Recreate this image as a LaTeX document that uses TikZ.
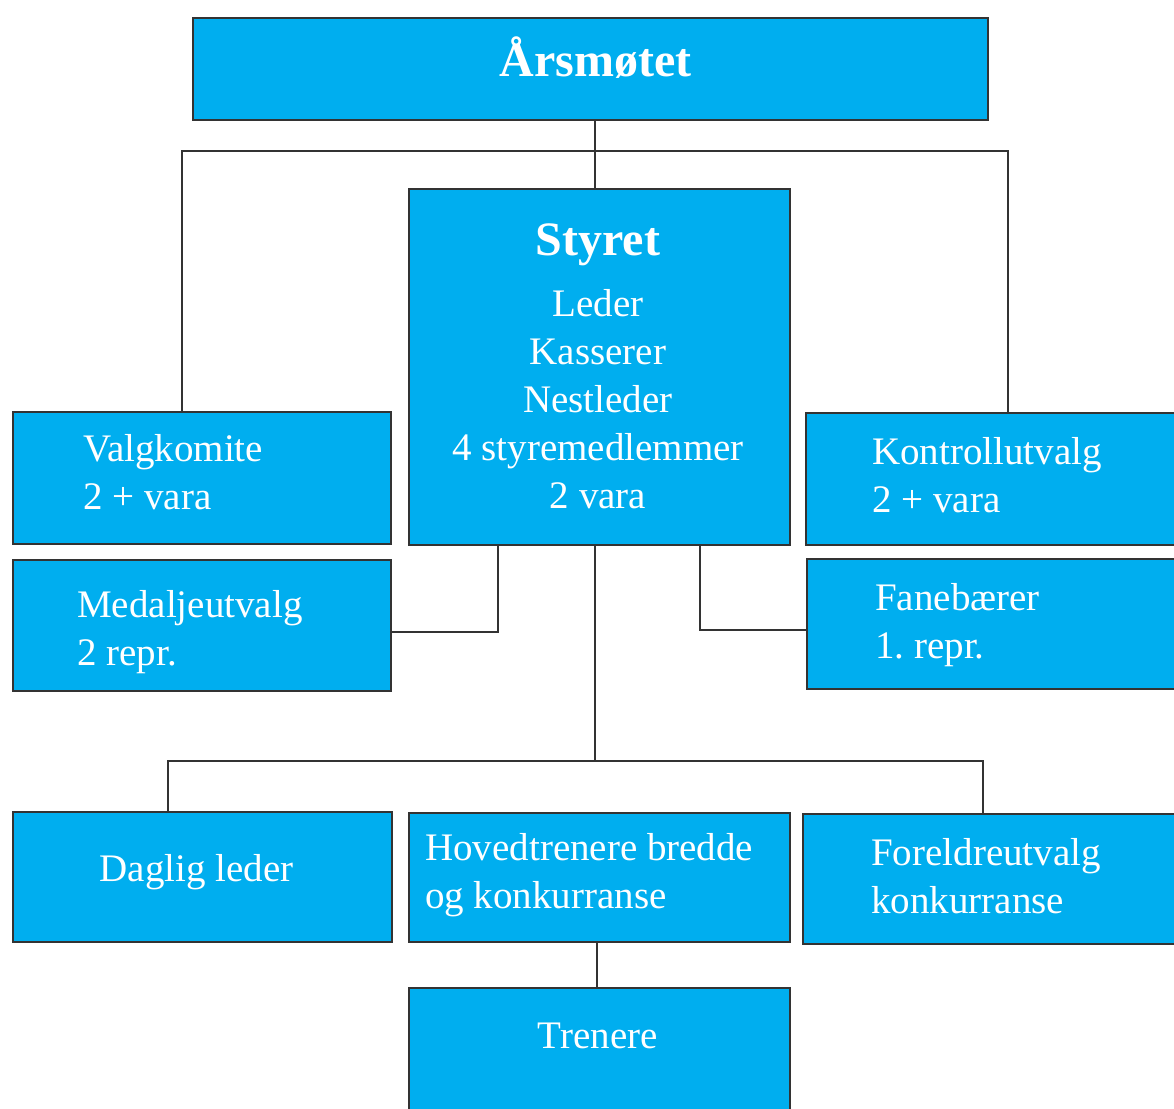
\documentclass[tikz,border=0pt]{standalone}
\usepackage{fontspec}
\setmainfont{Liberation Serif}
\definecolor{boxfill}{HTML}{00AEEF}
\definecolor{edge}{HTML}{333333}
\begin{document}
\begin{tikzpicture}[x=1pt,y=-1pt,
  box/.style={draw=edge, line width=2pt, fill=boxfill, rectangle, inner sep=0pt, anchor=north west},
  txt/.style={text=white, inner sep=0pt, font=\fontsize{39}{48}\selectfont},
  ttl/.style={text=white, inner sep=0pt, font=\fontsize{48}{48}\selectfont\bfseries},
  conn/.style={draw=edge, line width=2pt}]
\clip (0,0) rectangle (1174,1108);
\fill[white] (0,0) rectangle (1174,1108);

% boxes
\node[box, minimum width=795pt, minimum height=101pt] (aars) at (192,17.5) {};
\node[box, minimum width=381pt, minimum height=356pt] (styret) at (408,188) {};
\node[box, minimum width=378pt, minimum height=132pt] (valg) at (12,410.5) {};
\node[box, minimum width=390pt, minimum height=132pt] (kontroll) at (804.5,412) {};
\node[box, minimum width=378pt, minimum height=131.5pt] (medalj) at (12,558.5) {};
\node[box, minimum width=390pt, minimum height=130.3pt] (fane) at (806,558) {};
\node[box, minimum width=378.5pt, minimum height=130pt] (daglig) at (12,810.5) {};
\node[box, minimum width=381pt, minimum height=129pt] (hoved) at (408,812) {};
\node[box, minimum width=390pt, minimum height=130pt] (foreldre) at (802,812.5) {};
\node[box, minimum width=381pt, minimum height=150pt] (trenere) at (408,987) {};

% texts
\node[ttl, anchor=base] (aars-t) at (595.7,76.7) {Årsmøtet};
\node[txt, align=center, anchor=center] (styret-t) at (598,372.4)
  {\strut{\fontsize{48}{48}\selectfont\bfseries Styret}\\[13.7pt]
   \strut Leder\\\strut Kasserer\\\strut Nestleder\\\strut 4 styremedlemmer\\\strut 2 vara};
\node[txt, align=left, anchor=west] (valg-t) at (83,475.4) {\strut Valgkomite\\\strut 2 + vara};
\node[txt, align=left, anchor=west] (kontroll-t) at (872,478.4) {\strut Kontrollutvalg\\\strut 2 + vara};
\node[txt, align=left, anchor=west] (medalj-t) at (77,631.7) {\strut Medaljeutvalg\\\strut 2 repr.};
\node[txt, align=left, anchor=west] (fane-t) at (875,625) {\strut Fanebærer\\\strut 1.\ repr.};
\node[txt, anchor=base] (daglig-t) at (196.5,881.7) {Daglig leder};
\node[txt, align=left, anchor=west] (hoved-t) at (425,874.4) {\strut Hovedtrenere bredde\\\strut og konkurranse};
\node[txt, align=left, anchor=west] (foreldre-t) at (871,879.4) {\strut Foreldreutvalg\\\strut konkurranse};
\node[txt, anchor=base] (trenere-t) at (597.7,1048) {Trenere};

% connectors
\draw[conn] (594.5,0 |- aars.south) -- (594.5,0 |- styret.north);
\draw[conn] (181.7,0 |- valg.north) |- (1008.3,151) -- (1008.3,0 |- kontroll.north);
\draw[conn] (498,0 |- styret.south) |- (medalj.east |- 0,631.7);
\draw[conn] (700,0 |- styret.south) |- (fane.west |- 0,630);
\draw[conn] (594.7,0 |- styret.south) -- (594.7,760.5);
\draw[conn] (167.5,0 |- daglig.north) |- (982.5,760.5) -- (982.5,0 |- foreldre.north);
\draw[conn] (596.7,0 |- hoved.south) -- (596.7,0 |- trenere.north);
\end{tikzpicture}
\end{document}
